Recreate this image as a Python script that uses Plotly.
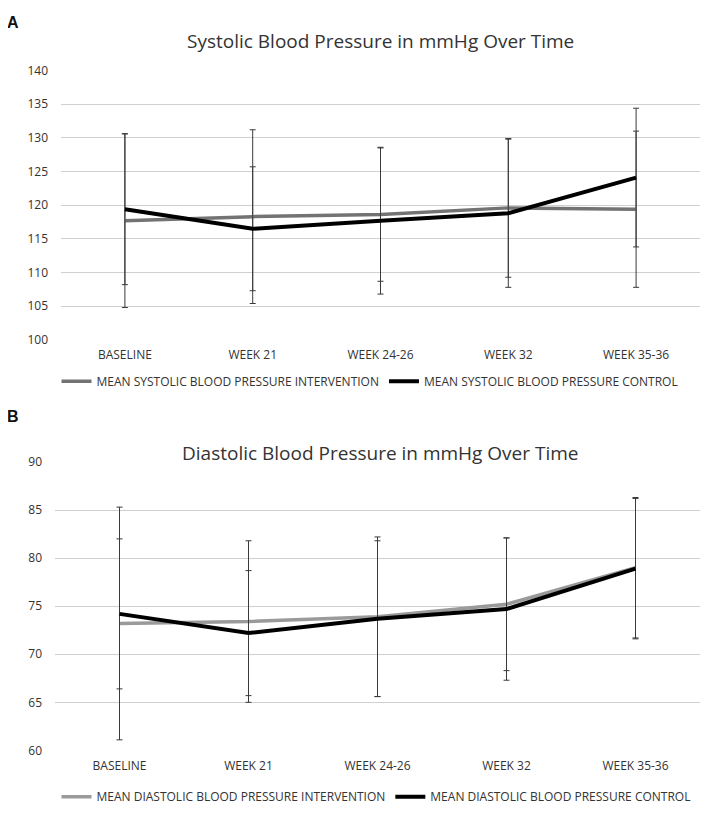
import plotly.graph_objects as go

categories = ["BASELINE", "WEEK 21", "WEEK 24-26", "WEEK 32", "WEEK 35-36"]

sys_intervention = [117.7, 118.3, 118.6, 119.6, 119.4]
sys_intervention_sd = [12.9, 12.9, 9.9, 10.3, 11.6]
sys_control = [119.4, 116.5, 117.7, 118.8, 124.1]
sys_control_sd = [11.2, 9.2, 10.9, 11.0, 10.3]

dia_intervention = [73.2, 73.4, 73.9, 75.2, 79.0]
dia_intervention_sd = [12.1, 8.4, 8.3, 6.9, 7.3]
dia_control = [74.2, 72.2, 73.7, 74.7, 78.9]
dia_control_sd = [7.8, 6.5, 8.1, 7.4, 7.3]

FONT = "Open Sans"
TEXT = "#333333"
GRID = "#cfcfcf"

W = 709.0
H = 818.0


# page pixel -> paper fraction (the page puts the plot a few px down/right)
def px(x):
    return (x - 8) / W


def py(y):
    return 1 - (y - 16.2) / 0.978 / H


fig = go.Figure()


def add_series(y, sd, name, color, width, xa, ya, legend):
    fig.add_trace(go.Scatter(
        x=categories,
        y=y,
        mode='lines',
        name=name,
        line=dict(color=color, width=width),
        error_y=dict(type='data', array=sd, visible=True,
                     color='#3a3a3a', thickness=1, width=3),
        xaxis=xa,
        yaxis=ya,
        legend=legend
    ))


add_series(sys_intervention, sys_intervention_sd,
           "MEAN SYSTOLIC BLOOD PRESSURE INTERVENTION", '#737373', 3.5, 'x', 'y', 'legend')
add_series(sys_control, sys_control_sd,
           "MEAN SYSTOLIC BLOOD PRESSURE CONTROL", '#000000', 4, 'x', 'y', 'legend')
add_series(dia_intervention, dia_intervention_sd,
           "MEAN DIASTOLIC BLOOD PRESSURE INTERVENTION", '#9a9a9a', 3.5, 'x2', 'y2', 'legend2')
add_series(dia_control, dia_control_sd,
           "MEAN DIASTOLIC BLOOD PRESSURE CONTROL", '#000000', 4, 'x2', 'y2', 'legend2')

xaxis_common = dict(
    type='category',
    range=[-0.5, 4.5],
    showgrid=False,
    zeroline=False,
    showline=False,
    ticks='',
    tickfont=dict(family=FONT, size=12, color=TEXT),
    ticklabelstandoff=6,
)
yaxis_common = dict(
    showgrid=True,
    gridcolor=GRID,
    gridwidth=1,
    zeroline=False,
    showline=False,
    ticks='',
    dtick=5,
    tickfont=dict(family=FONT, size=12, color=TEXT),
    ticklabelstandoff=12,
)

legend_common = dict(
    orientation='h',
    xanchor='center',
    yanchor='middle',
    font=dict(family=FONT, size=12, color=TEXT),
    bgcolor='rgba(0,0,0,0)',
    itemwidth=30,
    tracegroupgap=0,
)

title_font = dict(family=FONT, size=19, color=TEXT)
letter_font = dict(family="Liberation Sans", size=16, color='#111111')

fig.update_layout(
    width=709,
    height=818,
    margin=dict(l=0, r=0, t=0, b=0),
    paper_bgcolor='white',
    plot_bgcolor='white',
    xaxis=dict(xaxis_common, domain=[px(61), px(700)], anchor='y'),
    yaxis=dict(yaxis_common, domain=[py(339), py(69.3)], range=[99.95, 140.05], anchor='x'),
    xaxis2=dict(xaxis_common, domain=[px(55), px(700)], anchor='y2'),
    yaxis2=dict(yaxis_common, domain=[py(749), py(460.3)], range=[59.97, 90.03], anchor='x2'),
    legend=dict(legend_common, x=px(370), y=py(380)),
    legend2=dict(legend_common, x=px(376), y=py(795)),
    showlegend=True,
    annotations=[
        dict(text="Systolic Blood Pressure in mmHg Over Time", x=px(380), y=py(40),
             xref='paper', yref='paper', showarrow=False,
             xanchor='center', yanchor='middle', font=title_font),
        dict(text="Diastolic Blood Pressure in mmHg Over Time", x=px(380), y=py(452),
             xref='paper', yref='paper', showarrow=False,
             xanchor='center', yanchor='middle', font=title_font),
        dict(text="<b>A</b>", x=px(13), y=py(22), xref='paper', yref='paper',
             showarrow=False, xanchor='center', yanchor='middle', font=letter_font),
        dict(text="<b>B</b>", x=px(13), y=py(415), xref='paper', yref='paper',
             showarrow=False, xanchor='center', yanchor='middle', font=letter_font),
    ]
)

fig.write_html("out.html")
